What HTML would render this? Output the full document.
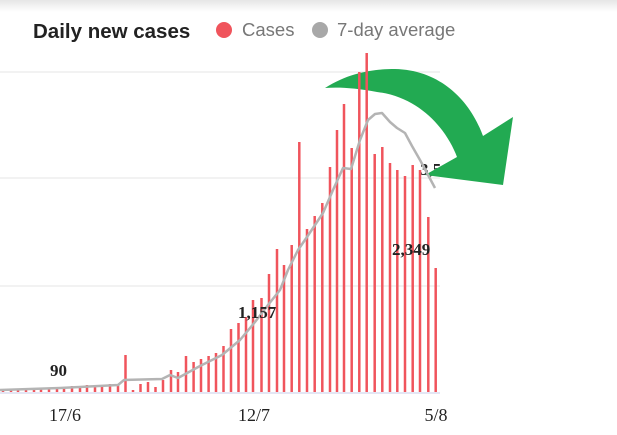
<!DOCTYPE html>
<html><head><style>
html,body{margin:0;padding:0;background:#fff;width:617px;height:435px;overflow:hidden}
</style></head><body>
<svg width="617" height="435" viewBox="0 0 617 435" xmlns="http://www.w3.org/2000/svg">
<defs><linearGradient id="sh" x1="0" y1="0" x2="0" y2="1"><stop offset="0" stop-color="#e6e6e6"/><stop offset="1" stop-color="#fff"/></linearGradient></defs>
<rect width="617" height="12" fill="url(#sh)"/>
<text x="33" y="38" font-family="Liberation Sans, sans-serif" font-weight="bold" font-size="20.5" fill="#222">Daily new cases</text>
<circle cx="224" cy="30" r="8" fill="#f0545c"/>
<text x="242" y="36" font-family="Liberation Sans, sans-serif" font-size="18.5" fill="#777">Cases</text>
<circle cx="320" cy="30" r="8" fill="#a8a8a8"/>
<text x="337" y="36" font-family="Liberation Sans, sans-serif" font-size="18.5" fill="#777">7-day average</text>
<g stroke="#eeeeee" stroke-width="1.5">
<line x1="0" y1="72" x2="440" y2="72"/><line x1="0" y1="178" x2="440" y2="178"/><line x1="0" y1="286" x2="440" y2="286"/>
</g>
<line x1="0" y1="393" x2="440" y2="393" stroke="#c8cde8" stroke-width="1"/>
<g font-family="Liberation Serif, serif" font-weight="bold" font-size="17" fill="#222">
<text x="420" y="175">3,5</text>
</g>
<path d="M325,88 C350,72 375,69 395,69 C440,70 470,100 483,136 L513,117 L503,185 L425,175 L457,157 C447,130 420,97 377,92 C355,88 340,87 325,88 Z" fill="#22aa52"/>
<g stroke="#f0545c" stroke-width="2.5">
<line x1="3" y1="392" x2="3" y2="390"/><line x1="11" y1="392" x2="11" y2="390"/><line x1="18" y1="392" x2="18" y2="389"/><line x1="26" y1="392" x2="26" y2="389"/><line x1="34" y1="392" x2="34" y2="389"/><line x1="41" y1="392" x2="41" y2="388"/><line x1="49" y1="392" x2="49" y2="388"/><line x1="57" y1="392" x2="57" y2="387"/><line x1="64" y1="392" x2="64" y2="387"/><line x1="72" y1="392" x2="72" y2="386"/><line x1="80" y1="392" x2="80" y2="386"/><line x1="87" y1="392" x2="87" y2="385"/><line x1="95" y1="392" x2="95" y2="385"/><line x1="102" y1="392" x2="102" y2="385"/><line x1="110" y1="392" x2="110" y2="384"/><line x1="118" y1="392" x2="118" y2="384"/>
<line x1="125.5" y1="392" x2="125.5" y2="355"/><line x1="133" y1="392" x2="133" y2="390"/><line x1="140.5" y1="392" x2="140.5" y2="384"/><line x1="148" y1="392" x2="148" y2="382"/><line x1="155.5" y1="392" x2="155.5" y2="387"/><line x1="163" y1="392" x2="163" y2="380"/><line x1="171" y1="392" x2="171" y2="370"/><line x1="178" y1="392" x2="178" y2="372"/><line x1="186" y1="392" x2="186" y2="356"/><line x1="193.6" y1="392" x2="193.6" y2="362"/><line x1="201" y1="392" x2="201" y2="359"/><line x1="208.6" y1="392" x2="208.6" y2="356"/><line x1="216" y1="392" x2="216" y2="353"/><line x1="223.5" y1="392" x2="223.5" y2="346"/><line x1="231" y1="392" x2="231" y2="329"/><line x1="238.5" y1="392" x2="238.5" y2="323"/><line x1="246" y1="392" x2="246" y2="317"/><line x1="253" y1="392" x2="253" y2="300"/><line x1="261.5" y1="392" x2="261.5" y2="298"/><line x1="269" y1="392" x2="269" y2="274"/><line x1="277" y1="392" x2="277" y2="249"/>
<line x1="284" y1="392" x2="284" y2="265"/><line x1="291.7" y1="392" x2="291.7" y2="245"/><line x1="299.3" y1="392" x2="299.3" y2="142"/><line x1="307" y1="392" x2="307" y2="229"/><line x1="314.7" y1="392" x2="314.7" y2="216"/><line x1="322.3" y1="392" x2="322.3" y2="203"/><line x1="330" y1="392" x2="330" y2="167"/><line x1="337" y1="392" x2="337" y2="130"/><line x1="344" y1="392" x2="344" y2="104"/><line x1="351.7" y1="392" x2="351.7" y2="148"/><line x1="359.3" y1="392" x2="359.3" y2="72"/><line x1="366.7" y1="392" x2="366.7" y2="53"/><line x1="374.7" y1="392" x2="374.7" y2="154"/><line x1="382.3" y1="392" x2="382.3" y2="147"/><line x1="390" y1="392" x2="390" y2="163"/><line x1="397.3" y1="392" x2="397.3" y2="170"/><line x1="405" y1="392" x2="405" y2="176"/><line x1="412.7" y1="392" x2="412.7" y2="165"/><line x1="420" y1="392" x2="420" y2="170"/><line x1="428.3" y1="392" x2="428.3" y2="217"/><line x1="435.7" y1="392" x2="435.7" y2="268"/>
</g>
<polyline fill="none" stroke="#b4b4b4" stroke-width="2.5" stroke-linejoin="round" points="0,390 60,388 118,385 124,380 162,379 170,375 178,378 200,366 222,355 240,340 255,322 268,305 280,290 288,270 298,250 307,237 323,213 333,190 343,168 351,169 360,140 368,120 375,114 382,113 390,122 397,128 405,133 412,146 420,160 427,173 435,188"/>
<g font-family="Liberation Serif, serif" font-weight="bold" font-size="17" fill="#222">
<text x="50" y="376">90</text>
<text x="238" y="318">1,157</text>
<text x="392" y="255">2,349</text>
</g>
<g font-family="Liberation Serif, serif" font-size="18" fill="#222" text-anchor="middle">
<text x="65" y="421">17/6</text>
<text x="254" y="421">12/7</text>
<text x="436" y="421">5/8</text>
</g>
</svg>
</body></html>
